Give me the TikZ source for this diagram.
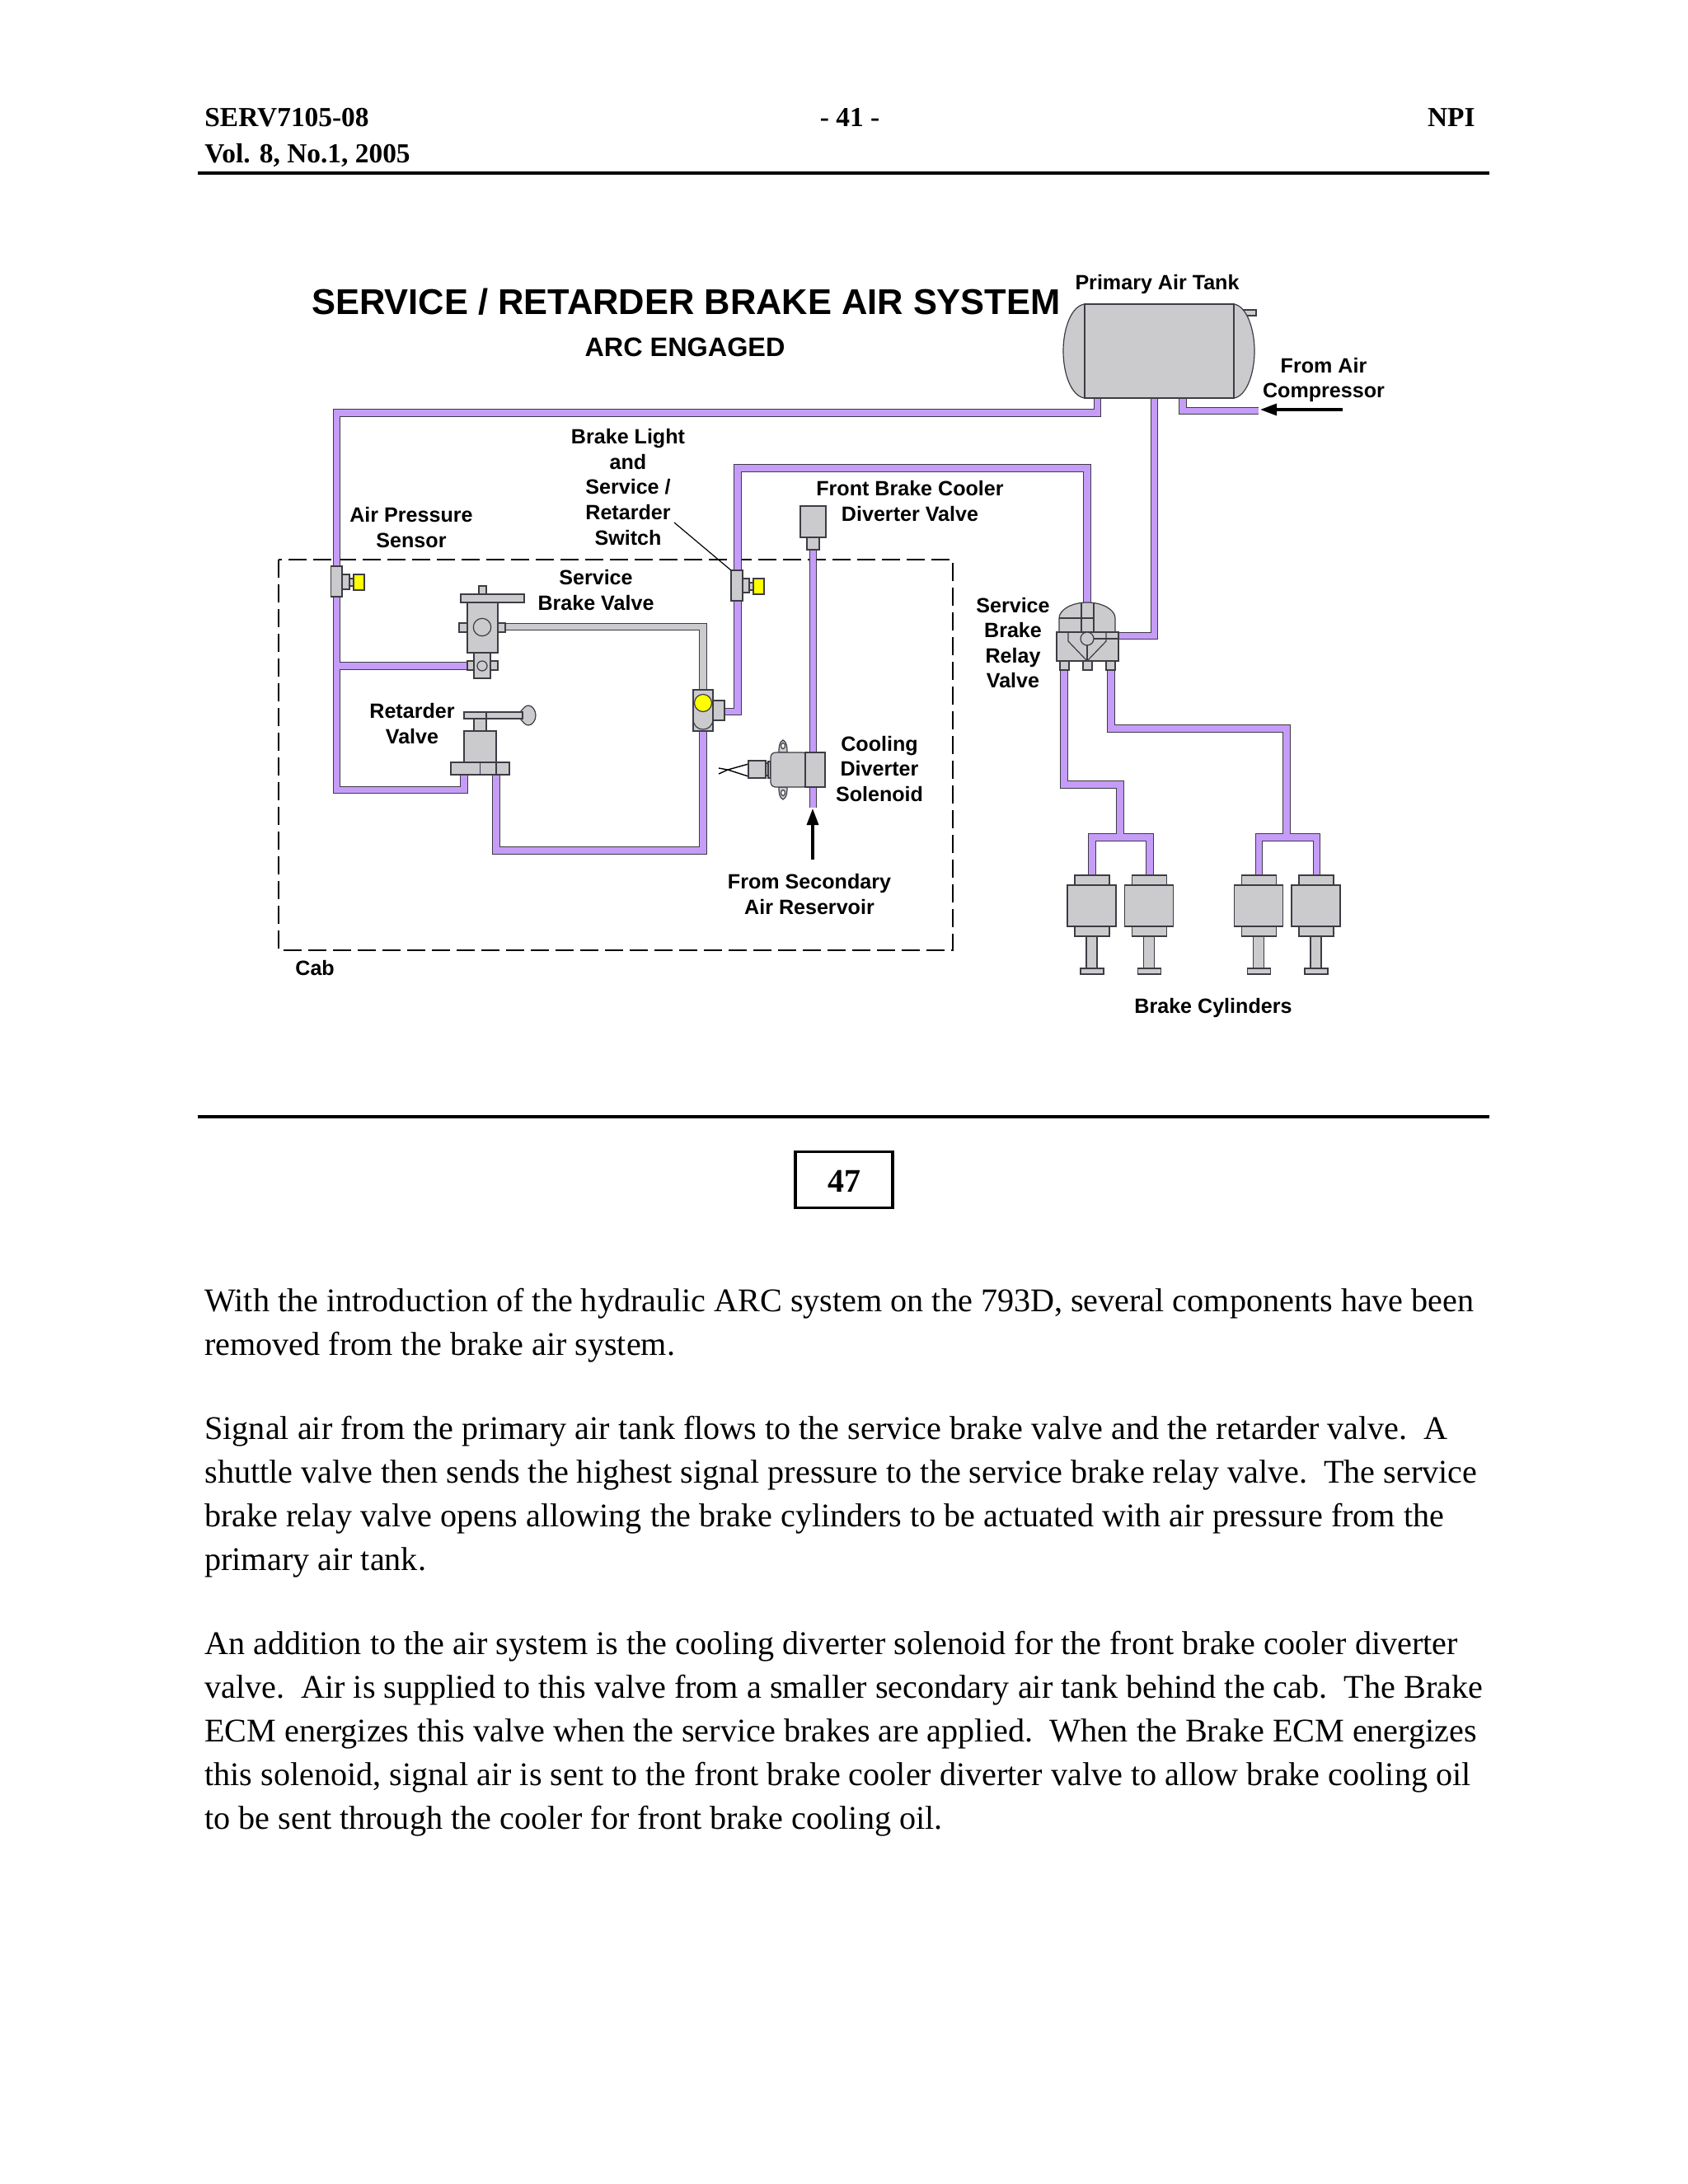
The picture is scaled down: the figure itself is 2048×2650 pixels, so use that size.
\documentclass[tikz,border=0pt]{standalone}
\usepackage{fontspec}
\setmainfont{Liberation Serif}
\newfontfamily\lblfamily{Liberation Sans}
\usetikzlibrary{arrows.meta}
\definecolor{pipefill}{HTML}{C69CF9}
\definecolor{edgecol}{HTML}{3C3C44}
\definecolor{partfill}{HTML}{CBCACC}
\definecolor{sensoryellow}{HTML}{FFFF00}
\newcommand{\partbox}[6][]{\node[partstyle,#1,minimum width={((#5)-(#3))*0.5pt},minimum height={((#6)-(#4))*0.5pt}] (#2) at ({((#3)+(#5))/2},{((#4)+(#6))/2}) {};}
\tikzset{
  partstyle/.style={draw=edgecol,fill=partfill,line width=0.6pt,inner sep=0pt,outer sep=0pt,rectangle},
  partline/.style={draw=edgecol,line width=0.6pt},
  yellowpart/.style={fill=sensoryellow},
  pipe/.style={draw=edgecol,line width=0.6pt,double=pipefill,double distance=3.6pt,line join=miter,line cap=butt},
  graypipe/.style={draw=edgecol,line width=0.6pt,double=partfill,double distance=3.6pt,line join=miter,line cap=butt},
  flow/.style={draw=black,line width=1.6pt,-{Triangle[length=10pt,width=7pt]}},
  lbl/.style={font=\lblfamily\bfseries\fontsize{12.55}{15.3}\selectfont,align=center,inner sep=0pt,text=black},
  hdr/.style={font=\bfseries\fontsize{16.7}{20}\selectfont,inner sep=0pt,text=black},
  para/.style={font=\fontsize{20.07}{26.6}\selectfont,align=left,inner sep=0pt,anchor=north west,text=black},
  rulestyle/.style={draw=black,line width=1.7pt},
}
\begin{document}
\begin{tikzpicture}[x=0.5pt,y=-0.5pt]
\useasboundingbox (0,0) rectangle (2048,2650);
\fill[white] (0,0) rectangle (2048,2650);

% page header
\node[hdr,anchor=base west] (hdrA) at (248,153) {SERV7105-08};
\node[hdr,anchor=base west] (hdrB) at (248,197) {Vol. 8, No.1, 2005};
\node[hdr,anchor=base] (hdrC) at (1031,153) {- 41 -};
\node[hdr,anchor=base east] (hdrD) at (1790,153) {NPI};
\coordinate (ruleAl) at (240,210); \coordinate (ruleAr) at (1807,210);
\draw[rulestyle] (ruleAl) -- (ruleAr);
\coordinate (ruleBl) at (240,1355); \coordinate (ruleBr) at (1807,1355);
\draw[rulestyle] (ruleBl) -- (ruleBr);

% cab boundary
\draw[black,line width=1.1pt,dash pattern=on 11pt off 4pt] (338,679) rectangle (1156,1153);

% pipes
\coordinate (tankA) at (1331.5,483);
\coordinate (tankB) at (1400.5,483);
\coordinate (tankC) at (1435,483);
\coordinate (inlet) at (1527,498.5);
\draw[pipe]
  (tankA) -- (1331.5,501) -- (408.5,501) -- (408.5,958.5) -- (563,958.5) -- (563,940)
  (408.5,808) -- (568,808);
\draw[pipe] (602,940) -- (602,1032) -- (853,1032) -- (853,886);
\draw[pipe] (870,863.5) -- (895,863.5) -- (895,568) -- (1319,568) -- (1319,733);
\draw[pipe] (tankB) -- (1400.5,771.5) -- (1356,771.5);
\draw[pipe] (tankC) -- (1435,498.5) -- (inlet);
\draw[pipe] (986.5,665) -- (986.5,980);
\draw[pipe]
  (1291,812) -- (1291,952) -- (1359,952) -- (1359,1016)
  (1325,1063) -- (1325,1016) -- (1395,1016) -- (1395,1063);
\draw[pipe]
  (1348,812) -- (1348,884) -- (1561,884) -- (1561,1016)
  (1527.5,1063) -- (1527.5,1016) -- (1597.5,1016) -- (1597.5,1063);
\draw[graypipe] (613,760.5) -- (853,760.5) -- (853,838);

% primary air tank
\partbox{tankFit}{1508}{376}{1524}{383}
\draw[partstyle] (1316,369) .. controls (1300,371) and (1290,398) .. (1290,426) .. controls (1290,454) and (1300,481) .. (1316,483) -- cycle;
\draw[partstyle] (1497,369) .. controls (1512,371) and (1522,398) .. (1522,426) .. controls (1522,454) and (1512,481) .. (1497,483) -- cycle;
\partbox{tank}{1316}{369}{1497}{483}

% air pressure sensor
\partbox{sensorSm}{424}{702}{430}{711}
\partbox{sensorStub}{415}{697}{424}{715}
\partbox{sensorT}{401.5}{687}{415}{724}
\partbox[yellowpart]{sensorY}{429}{697}{442}{716}

% brake light switch
\partbox{switchSm}{909}{707}{915}{716}
\partbox{switchStub}{901}{702}{909}{719}
\partbox{switchT}{887}{692}{901}{729}
\partbox[yellowpart]{switchY}{914}{702}{927}{721}

% service brake valve
\draw[partstyle] (559,721) -- (559,722) arc[start angle=180,end angle=0,x radius=9.5,y radius=9] -- (578,721) -- cycle;
\partbox{sbvTopB}{581}{711}{590}{721}
\partbox{sbvPlate}{559}{721}{636}{731}
\partbox{sbvL}{557}{756}{567}{767}
\partbox{sbvR}{604}{756}{613}{767}
\partbox{sbvBody}{567}{731}{604}{792}
\node[partstyle,circle,minimum size=10.7pt] (sbvC) at (585,761) {};
\partbox{sbvLowL}{567}{802}{575}{813}
\partbox{sbvLowR}{595}{802}{604}{813}
\partbox{sbvLow}{575}{792}{595}{823}
\node[partstyle,circle,minimum size=6pt] (sbvD) at (585,808) {};

% retarder valve
\draw[partstyle] (631,864) .. controls (635,860) and (637,856) .. (641,856) .. controls (646,856) and (650,862) .. (650,868) .. controls (650,874) and (646,880) .. (641,880) .. controls (637,880) and (635,876) .. (631,872) -- cycle;
\partbox{rtvLever}{563}{864}{634}{872}
\partbox{rtvStem}{575}{872}{590}{887}
\draw[partline] (590,864) -- (590,872);
\partbox{rtvBody}{563}{887}{602}{925}
\partbox{rtvBase}{547}{925}{618}{940}
\draw[partline] (582.5,925) -- (582.5,940) (602,925) -- (602,940);

% shuttle valve
\partbox{shuttleStub}{865}{850}{879}{874}
\partbox{shuttle}{841}{837}{865}{887}
\draw[partline] (841,872) .. controls (841,881) and (847,885) .. (853,885) .. controls (859,885) and (865,881) .. (865,872);
\node[partstyle,circle,yellowpart,minimum size=10.5pt] (shuttleY) at (853,853) {};

% front brake cooler diverter valve
\partbox{fbcLow}{979}{652}{994}{667}
\partbox{fbcTop}{971}{614}{1002}{652}

% cooling diverter solenoid
\draw[partstyle] (950,898) .. controls (945,900) and (945,908) .. (945,913) -- (955,913) .. controls (955,908) and (955,900) .. (950,898) -- cycle;
\draw[partstyle,fill=white] (950,905) ellipse[x radius=2.5,y radius=3.5];
\draw[partstyle] (950,970) .. controls (945,968) and (945,960) .. (945,955) -- (955,955) .. controls (955,960) and (955,968) .. (950,970) -- cycle;
\draw[partstyle,fill=white] (950,962) ellipse[x radius=2.5,y radius=3.5];
\draw[black,line width=0.7pt] (908,927) -- (883,934) -- (872,939) (908,942) -- (883,934) -- (872,932);
\partbox{solPlugA}{908}{923}{929}{944}
\partbox{solPlugB}{929}{926}{932}{941}
\partbox{solPlugC}{932}{924}{935}{944}
\partbox[rounded corners=3pt]{solBody}{935}{913}{980}{955}
\partbox{solHead}{977}{913}{1001}{955}

% service brake relay valve
\partbox{relayF}{1286}{802}{1297}{813}
\partbox{relayG}{1314}{802}{1325}{813}
\partbox{relayH}{1342}{802}{1353}{813}
\draw[partstyle] (1285,767) -- (1285,750) .. controls (1285,740) and (1300,731) .. (1319,731) .. controls (1338,731) and (1353,740) .. (1353,750) -- (1353,767) -- cycle;
\draw[partline] (1312,731) -- (1312,767) (1327,731) -- (1327,767) (1285,750) -- (1327,750);
\partbox{relayBody}{1282}{767}{1357}{802}
\draw[partline] (1296,767) -- (1296,778) -- (1319,802) -- (1342,778) -- (1342,767);
\node[partstyle,circle,minimum size=8pt] (relayC) at (1319,775) {};
\draw[partline] (relayC.south) -- (1319,802) (relayC.east) -- (1357,775);

% brake cylinders
\foreach \nm/\dx in {cylA/0,cylB/69.7,cylC/202.3,cylD/272}{
  \partbox{\nm cap}{1304+\dx}{1062}{1346+\dx}{1074}
  \partbox{\nm low}{1304+\dx}{1124}{1346+\dx}{1136}
  \partbox{\nm rod}{1318+\dx}{1136}{1331+\dx}{1176}
  \partbox{\nm foot}{1311+\dx}{1175}{1339+\dx}{1182}
  \partbox{\nm}{1295+\dx}{1074}{1354+\dx}{1124}
}

% arrows and leader
\coordinate (compFree) at (1629,497);
\coordinate (compTip) at (1529,497);
\draw[flow] (compFree) -- (compTip);
\coordinate (secFree) at (986,1043);
\coordinate (secTip) at (986,981);
\draw[flow] (secFree) -- (secTip);
\coordinate (leadFree) at (818,634);
\draw[black,line width=0.6pt] (leadFree) -- (switchT.north west);

% diagram text
\node[lbl,anchor=west,font=\lblfamily\bfseries\fontsize{21.72}{26}\selectfont] (title) at (378,366) {SERVICE / RETARDER BRAKE AIR SYSTEM};
\node[lbl,font=\lblfamily\bfseries\fontsize{16.2}{20}\selectfont] (subtitle) at (831,421) {ARC ENGAGED};
\node[lbl] (tPrimary) at (1404,345) {Primary Air Tank};
\node[lbl] (tComp) at (1606,461) {From Air\\Compressor};
\node[lbl] (tSwitch) at (762,591) {Brake Light\\and\\Service /\\Retarder\\Switch};
\node[lbl] (tSensor) at (499,640) {Air Pressure\\Sensor};
\node[lbl] (tCooler) at (1104,608) {Front Brake Cooler\\Diverter Valve};
\node[lbl] (tService) at (723,716) {Service\\Brake Valve};
\node[lbl] (tRetarder) at (500,878) {Retarder\\Valve};
\node[lbl] (tRelay) at (1229,780) {Service\\Brake\\Relay\\Valve};
\node[lbl] (tSolenoid) at (1067,933) {Cooling\\Diverter\\Solenoid};
\node[lbl] (tSecondary) at (982,1085) {From Secondary\\Air Reservoir};
\node[lbl,anchor=west] (tCab) at (358,1175) {Cab};
\node[lbl] (tCyl) at (1472,1223) {Brake Cylinders};

% slide number
\node[draw=black,line width=1.7pt,minimum width=59pt,minimum height=34pt,inner sep=0pt] (slideBox) at (1024,1431.5) {};
\node[hdr,font=\bfseries\fontsize{20}{24}\selectfont,anchor=base] (slideNo) at (1024,1446) {47};

% body text
\node[para] (paraA) at (248,1562.5) {With the introduction of the hydraulic ARC system on the 793D, several components have been\\removed from the brake air system.};
\node[para] (paraB) at (248,1717.5) {Signal air from the primary air tank flows to the service brake valve and the retarder valve.\ \ A\\shuttle valve then sends the highest signal pressure to the service brake relay valve.\ \ The service\\brake relay valve opens allowing the brake cylinders to be actuated with air pressure from the\\primary air tank.};
\node[para] (paraC) at (248,1978.5) {An addition to the air system is the cooling diverter solenoid for the front brake cooler diverter\\valve.\ \ Air is supplied to this valve from a smaller secondary air tank behind the cab.\ \ The Brake\\ECM energizes this valve when the service brakes are applied.\ \ When the Brake ECM energizes\\this solenoid, signal air is sent to the front brake cooler diverter valve to allow brake cooling oil\\to be sent through the cooler for front brake cooling oil.};
\end{tikzpicture}
\end{document}
